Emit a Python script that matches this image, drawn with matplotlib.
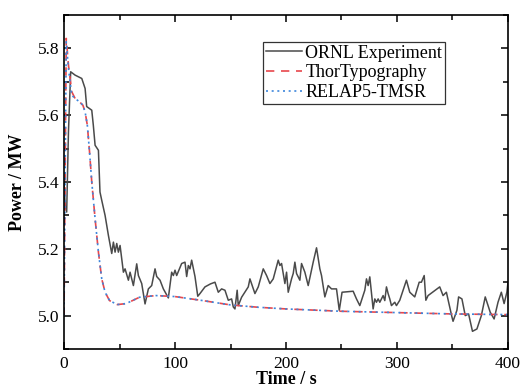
import matplotlib
matplotlib.use("Agg")
import matplotlib.pyplot as plt
from matplotlib.ticker import MultipleLocator

plt.rcParams['font.family'] = ['Liberation Serif', 'DejaVu Serif']

# ORNL experiment (s, MW)
t_exp = [0, 1, 2.4, 4, 6, 10, 16, 19, 20.4, 25, 26.4, 28, 31, 32.4, 34, 37, 40, 43, 44.5, 46,
         47.5, 49, 50.5, 53.5, 55, 58, 59.5, 62.5, 65.5, 67, 70, 73, 76, 79, 82, 83.5, 86.5, 89.5,
         94, 97, 98.5, 100, 101.5, 106, 109, 110.5, 112, 113.5, 115, 118, 120.5, 122.5, 127, 132,
         136, 139, 142, 145, 148, 151, 152.5, 154, 156, 157, 160, 166, 167.5, 172, 175, 179.5,
         182.5, 185.5, 188.5, 193, 194.5, 196, 199, 200.5, 202, 205, 206.5, 208, 209.5, 212.5,
         214, 217, 220, 224.5, 227.5, 230.5, 232, 235, 238, 241, 245.5, 248, 250.5, 260.5, 263.5,
         266.5, 271, 272.5, 274, 275.5, 278.5, 280, 281.5, 283, 284.5, 286, 287.5, 289, 290.5,
         292, 293.5, 295, 298, 299.5, 302.5, 308.5, 311.5, 316, 320, 322, 324.5, 326, 328, 338.5,
         341.5, 344.5, 349.5, 350.5, 354, 355.5, 358.5, 361.5, 364.5, 368, 372, 376, 379.5, 384,
         387.5, 391, 394, 396.5, 399, 400]
p_exp = [5.40, 5.33, 5.31, 5.55, 5.73, 5.72, 5.71, 5.68, 5.626, 5.615, 5.57, 5.51, 5.495, 5.37,
         5.345, 5.30, 5.24, 5.186, 5.22, 5.19, 5.216, 5.19, 5.21, 5.13, 5.14, 5.106, 5.13, 5.09,
         5.155, 5.12, 5.096, 5.035, 5.08, 5.09, 5.14, 5.117, 5.106, 5.08, 5.053, 5.13, 5.12, 5.136,
         5.12, 5.156, 5.16, 5.117, 5.15, 5.14, 5.166, 5.117, 5.058, 5.066, 5.086, 5.095, 5.10,
         5.07, 5.08, 5.076, 5.046, 5.05, 5.026, 5.02, 5.076, 5.03, 5.055, 5.086, 5.11, 5.066,
         5.086, 5.14, 5.12, 5.096, 5.11, 5.166, 5.15, 5.156, 5.096, 5.13, 5.07, 5.11, 5.126, 5.16,
         5.126, 5.106, 5.156, 5.13, 5.09, 5.16, 5.203, 5.14, 5.12, 5.056, 5.09, 5.08, 5.08, 5.016,
         5.07, 5.073, 5.05, 5.03, 5.076, 5.11, 5.09, 5.116, 5.02, 5.05, 5.04, 5.05, 5.04, 5.05,
         5.06, 5.045, 5.086, 5.066, 5.05, 5.03, 5.04, 5.03, 5.046, 5.106, 5.07, 5.056, 5.10, 5.10,
         5.12, 5.046, 5.06, 5.086, 5.06, 5.07, 4.996, 4.983, 5.016, 5.056, 5.05, 5.0, 5.005, 4.953,
         4.96, 5.0, 5.056, 5.01, 4.99, 5.04, 5.07, 5.036, 5.07, 5.10]

# ThorTypography
t_thor = [0, 2, 4, 7, 10, 14, 17, 19, 21, 23, 25, 28, 31, 34, 37, 41, 48, 56, 68, 83, 100,
          125, 150, 175, 200, 250, 300, 350, 400]
p_thor = [5.0, 5.83, 5.75, 5.67, 5.65, 5.64, 5.63, 5.61, 5.57, 5.49, 5.40, 5.29, 5.19, 5.11,
          5.07, 5.045, 5.033, 5.036, 5.055, 5.06, 5.057, 5.045, 5.032, 5.025, 5.02, 5.013,
          5.009, 5.005, 5.003]

# RELAP5-TMSR
t_relap = [0, 2, 4, 7, 10, 14, 17, 19, 21, 23, 25, 28, 31, 34, 37, 41, 48, 56, 68, 83, 100,
           125, 150, 175, 200, 250, 300, 350, 400]
p_relap = [5.0, 5.82, 5.74, 5.66, 5.65, 5.64, 5.63, 5.61, 5.57, 5.49, 5.40, 5.29, 5.19, 5.11,
           5.07, 5.045, 5.033, 5.036, 5.055, 5.06, 5.057, 5.045, 5.032, 5.025, 5.02, 5.013,
           5.009, 5.005, 5.003]

fig = plt.figure(figsize=(5.23, 3.9), dpi=100)
ax = fig.add_axes([0.1224, 0.1051, 0.8489, 0.8564])

ax.plot(t_exp, p_exp, color='#4a4a4a', lw=1.1, label='ORNL Experiment')
ax.plot(t_thor, p_thor, color='#e8474c', lw=1.2, ls=(0, (5, 4)), label='ThorTypography')
ax.plot(t_relap, p_relap, color='#3d86dc', lw=1.2, ls=(0, (1.2, 2.2)), label='RELAP5-TMSR')

ax.set_xlim(0, 400)
ax.set_ylim(4.9, 5.9)
ax.xaxis.set_major_locator(MultipleLocator(100))
ax.xaxis.set_minor_locator(MultipleLocator(50))
ax.yaxis.set_minor_locator(MultipleLocator(0.1))
ax.set_yticks([5.0, 5.2, 5.4, 5.6, 5.8])
ax.tick_params(which='both', direction='in', top=True, right=True, labelsize=12.5, width=1.1)
ax.tick_params(axis='x', which='major', pad=5)
ax.tick_params(which='major', length=5)
ax.tick_params(which='minor', length=3.5)
for s in ax.spines.values():
    s.set_linewidth(1.2)

ax.set_xlabel('Time / s', fontsize=13, fontweight='bold', labelpad=-1)
ax.set_ylabel('Power / MW', fontsize=13, fontweight='bold', labelpad=8)

leg = ax.legend(loc='upper left', bbox_to_anchor=(0.448, 0.919), borderaxespad=0,
                fontsize=13, frameon=True, fancybox=False, edgecolor='black',
                handlelength=2.0, handletextpad=0.2, labelspacing=0.15, borderpad=0.15)
leg.get_frame().set_linewidth(0.9)

fig.savefig('out.png', dpi=100)
